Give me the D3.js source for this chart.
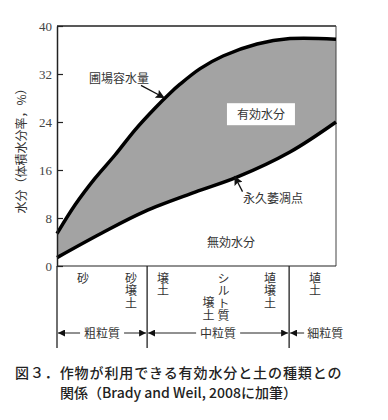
<!DOCTYPE html>
<html><head><meta charset="utf-8">
<script src="https://cdn.jsdelivr.net/npm/d3@7"></script>
<style>
html,body{margin:0;padding:0;background:#fff;}
svg{display:block;}
</style>
</head><body>
<svg id="c" width="388" height="420"></svg>
<script>
// ---- data ----
const yTicks = [0, 8, 16, 24, 32, 40];
const fcPos = [0, 6.5, 13.6, 20.8, 28, 35.1, 40.5, 44.1, 51.3, 59.5, 71.7, 83.5, 100];
const fieldCapacity = [5.4, 10.2, 14.6, 18.5, 22.7, 26.3, 28.8, 30.3, 32.9, 35.0, 37.0, 37.9, 37.8];
const wpPos = [0, 16.1, 31.5, 49.5, 64.5, 83.5, 100];
const wiltingPoint = [1.4, 5.5, 9.1, 12.3, 14.8, 19, 24];
const categories = ["砂", "砂壌土", "壌土", "シルト質壌土", "埴壌土", "埴土"];
const categoryPos = [9.3, 26.5, 38, 57, 76.3, 92.5];
const groups = ["粗粒質", "中粒質", "細粒質"];
const groupBounds = [0, 32.3, 83.2, 100];

const svg = d3.select("#c");
const X0 = 57, X1 = 336, Y0 = 266, Y1 = 26;
const x = d3.scaleLinear().domain([0, 100]).range([X0, X1]);
const y = d3.scaleLinear().domain([0, 40]).range([Y0, Y1]);
const textCol = "#333";
const jp = "'Noto Sans CJK JP', sans-serif";

const defs = svg.append("defs");
defs.append("marker").attr("id", "ah").attr("viewBox", "0 0 10 10")
  .attr("refX", 10).attr("refY", 5).attr("markerWidth", 7).attr("markerHeight", 7)
  .attr("markerUnits", "userSpaceOnUse").attr("orient", "auto-start-reverse")
  .append("path").attr("d", "M0,0 L10,5 L0,10 Z").attr("fill", "#111");
defs.append("marker").attr("id", "ah2").attr("viewBox", "0 0 10 10")
  .attr("refX", 10).attr("refY", 5).attr("markerWidth", 9).attr("markerHeight", 9)
  .attr("markerUnits", "userSpaceOnUse").attr("orient", "auto")
  .append("path").attr("d", "M0,0 L10,5 L0,10 L2,5 Z").attr("fill", "#111");

const fc = fcPos.map((p, i) => [p, fieldCapacity[i]]);
const wp = wpPos.map((p, i) => [p, wiltingPoint[i]]);
const curve = d3.curveCatmullRom.alpha(0.5);

// filled area between curves: gray under field capacity, white under wilting point
const area = d3.area().x(d => x(d[0])).y0(y(0)).y1(d => y(d[1])).curve(curve);
svg.append("path").attr("d", area(fc)).attr("fill", "#a3a3a3");
svg.append("path").attr("d", area(wp)).attr("fill", "#fff");

// frame
svg.append("line").attr("x1", X0).attr("x2", X1).attr("y1", Y1).attr("y2", Y1).attr("stroke", "#222").attr("stroke-width", 1.5);
svg.append("line").attr("x1", X1).attr("x2", X1).attr("y1", Y1).attr("y2", Y0).attr("stroke", "#444").attr("stroke-width", 1);
svg.append("line").attr("x1", X0).attr("x2", X1).attr("y1", Y0).attr("y2", Y0).attr("stroke", "#222").attr("stroke-width", 1.2);

// curves
const line = d3.line().x(d => x(d[0])).y(d => y(d[1])).curve(curve);
svg.append("path").attr("d", line(fc)).attr("fill", "none").attr("stroke", "#000").attr("stroke-width", 3.5);
svg.append("path").attr("d", line(wp)).attr("fill", "none").attr("stroke", "#000").attr("stroke-width", 3.5);

// y axis
const yAxis = d3.axisLeft(y).tickValues(yTicks).tickSizeInner(-6).tickSizeOuter(0).tickPadding(5);
const gy = svg.append("g").attr("transform", `translate(${X0},0)`).call(yAxis);
gy.select(".domain").attr("stroke", "#222").attr("stroke-width", 1.5);
gy.selectAll(".tick line").attr("stroke", "#222").attr("stroke-width", 1.2);
gy.selectAll(".tick text").attr("font-family", "'Liberation Serif', 'DejaVu Serif', serif")
  .attr("font-size", 13).attr("fill", "#444");

svg.append("text").attr("transform", `translate(26,148) rotate(-90)`)
  .attr("text-anchor", "middle").attr("font-family", jp).attr("font-size", 12).attr("fill", textCol)
  .text("水分（体積水分率，%）");

// dividers below axis
[groupBounds[0], groupBounds[1], groupBounds[2]].forEach(b => {
  svg.append("line").attr("x1", x(b)).attr("x2", x(b)).attr("y1", Y0).attr("y2", 348)
    .attr("stroke", "#222").attr("stroke-width", 1.3);
});

// category labels (vertical writing)
const rowStart = [272, 296.5];
function vtext(str, cx, startRow) {
  svg.append("text").attr("x", cx).attr("y", rowStart[startRow])
    .style("writing-mode", "vertical-rl").style("letter-spacing", "0.5px")
    .attr("font-family", jp).attr("font-size", 12).attr("fill", textCol).text(str);
}
categories.forEach((c, i) => {
  if (c === "シルト質壌土") {
    vtext("シルト質", x(categoryPos[i]) + 7.5, 0);
    vtext("壌土", x(categoryPos[i]) - 7.5, 1);
  } else {
    vtext(c, x(categoryPos[i]), 0);
  }
});

// group brackets
const gyPos = 333;
groups.forEach((g, i) => {
  const a = x(groupBounds[i]), b = x(groupBounds[i + 1]);
  if (i < 2) {
    const t = svg.append("text").attr("x", (a + b) / 2).attr("y", gyPos + 4.5).attr("text-anchor", "middle")
      .attr("font-family", jp).attr("font-size", 12).attr("fill", textCol).text(g);
    const w = t.node().getComputedTextLength();
    svg.append("line").attr("x1", (a + b) / 2 - w / 2 - 4).attr("x2", a + 1).attr("y1", gyPos).attr("y2", gyPos)
      .attr("stroke", "#222").attr("stroke-width", 1).attr("marker-end", "url(#ah)");
    svg.append("line").attr("x1", (a + b) / 2 + w / 2 + 4).attr("x2", b - 1).attr("y1", gyPos).attr("y2", gyPos)
      .attr("stroke", "#222").attr("stroke-width", 1).attr("marker-end", "url(#ah)");
  } else {
    svg.append("line").attr("x1", a + 15).attr("x2", a + 1).attr("y1", gyPos).attr("y2", gyPos)
      .attr("stroke", "#222").attr("stroke-width", 1).attr("marker-end", "url(#ah)");
    svg.append("text").attr("x", a + 18).attr("y", gyPos + 4.5)
      .attr("font-family", jp).attr("font-size", 12).attr("fill", textCol).text(g);
  }
});

// annotations
function label(str, dx, dy, anchor) {
  return svg.append("text").attr("x", x(dx)).attr("y", y(dy) + 4.5).attr("text-anchor", anchor || "start")
    .attr("font-family", jp).attr("font-size", 12).attr("fill", textCol).text(str);
}
function arrow(a, b) {
  svg.append("line").attr("x1", x(a[0])).attr("y1", y(a[1])).attr("x2", x(b[0])).attr("y2", y(b[1]))
    .attr("stroke", "#111").attr("stroke-width", 1.3).attr("marker-end", "url(#ah2)");
}
label("圃場容水量", 11.5, 31.3);
arrow([30.1, 30.1], [38.6, 28.0]);
svg.append("rect").attr("x", x(73.1) - 34).attr("y", y(25.3) - 11).attr("width", 68).attr("height", 22).attr("fill", "#fff");
label("有効水分", 73.1, 25.3, "middle");
label("永久萎凋点", 66.7, 11.2);
arrow([66.5, 12.4], [63.6, 15.0]);
label("無効水分", 53.8, 4.0);

// caption
const cap = svg.append("g").attr("font-family", jp).attr("font-size", 14).attr("font-weight", 500)
  .attr("fill", "#222");
cap.append("text").attr("x", 15).attr("y", 378).style("letter-spacing", "0.9px")
  .text("図３．作物が利用できる有効水分と土の種類との");
cap.append("text").attr("x", 60).attr("y", 398).text("関係（Brady and Weil, 2008に加筆）");
</script>
</body></html>
